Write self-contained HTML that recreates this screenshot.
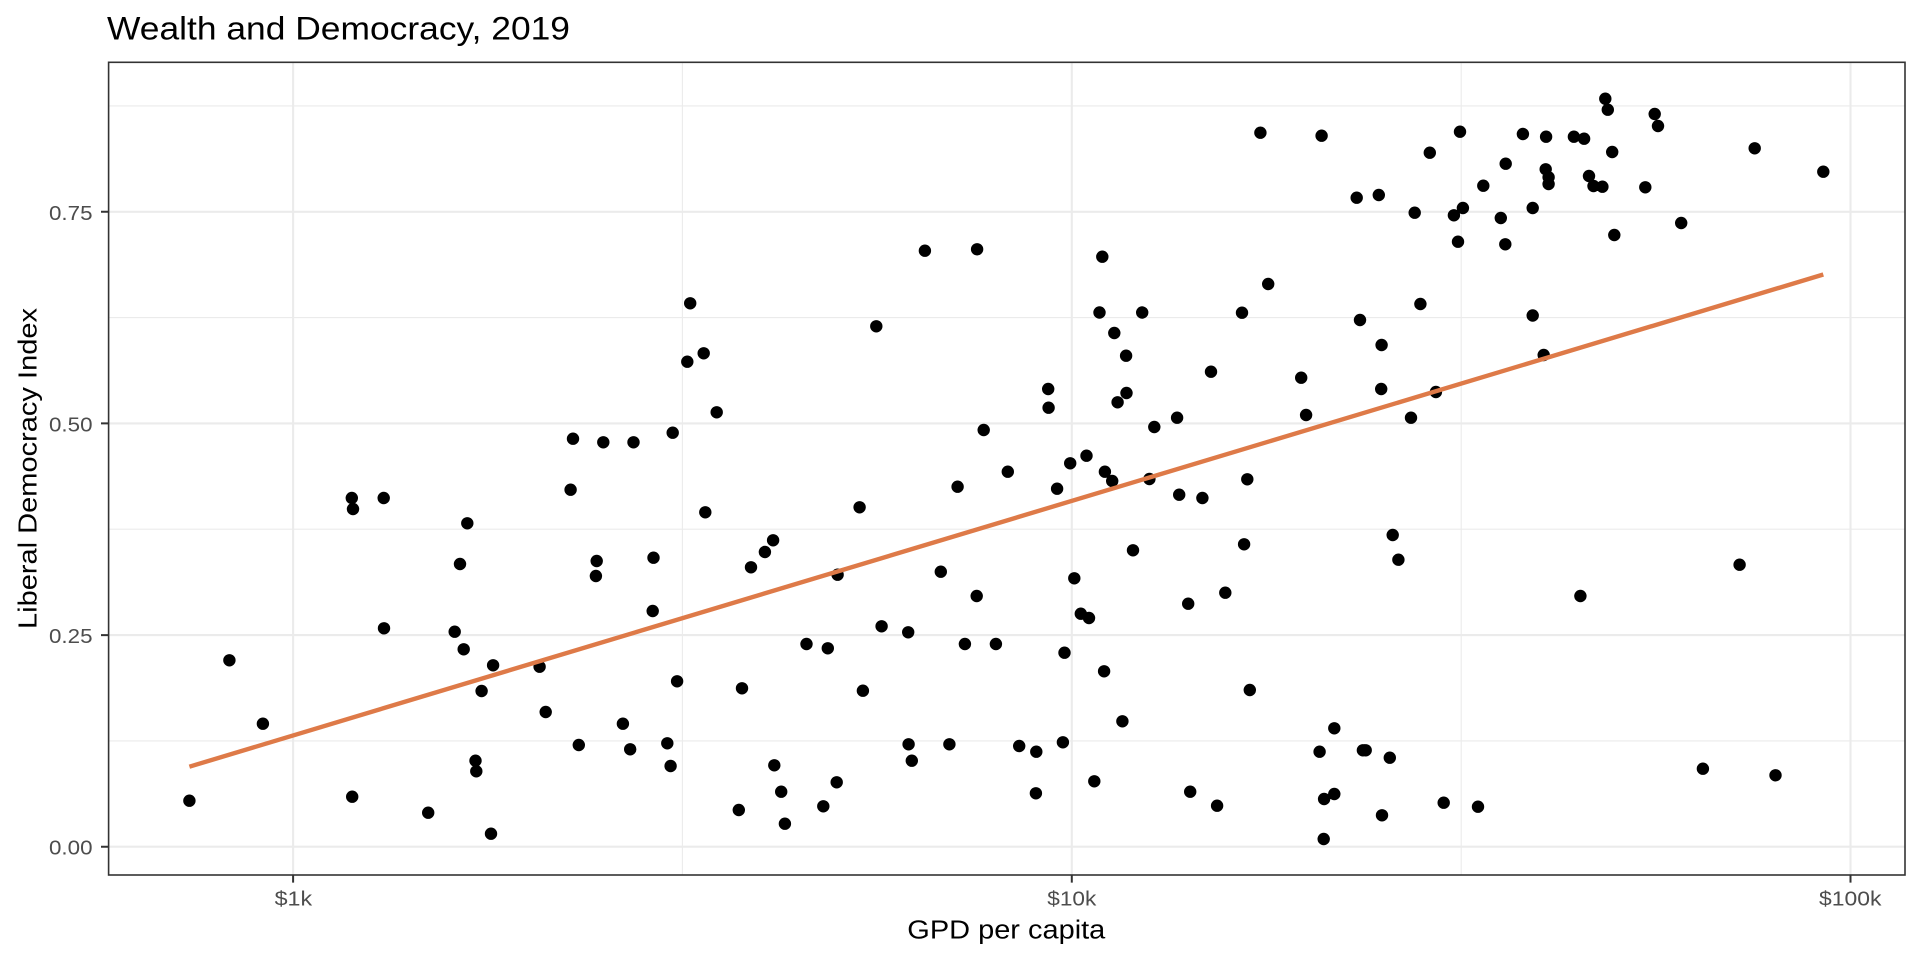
<!DOCTYPE html>
<html>
<head>
<meta charset="utf-8">
<style>
html, body { margin: 0; padding: 0; background: #ffffff; }
svg { display: block; }
text { font-family: "Liberation Sans", Arial, Helvetica, sans-serif; }
</style>
</head>
<body>
<svg width="1920" height="960" viewBox="0 0 1920 960" xmlns="http://www.w3.org/2000/svg">
<rect x="0" y="0" width="1920" height="960" fill="#ffffff"/>
<text x="107" y="39.5" font-size="32.5" fill="#000000" textLength="463" lengthAdjust="spacingAndGlyphs">Wealth and Democracy, 2019</text>
<path d="M108.6 740.9H1905M108.6 529.2H1905M108.6 317.6H1905M108.6 105.9H1905M682.4 62.3V875M1461.2 62.3V875" stroke="#EBEBEB" stroke-width="1.1" fill="none"/>
<path d="M108.6 846.7H1905M108.6 635.1H1905M108.6 423.4H1905M108.6 211.8H1905M293.1 62.3V875M1071.8 62.3V875M1850.5 62.3V875" stroke="#EBEBEB" stroke-width="2.1" fill="none"/>
<path fill="none" stroke="#000000" stroke-width="12.4" stroke-linecap="round" d="
M229.4 660.3h0 M262.9 723.7h0 M189.4 800.7h0 M352.2 796.7h0 M428.2 812.7h0 M463.7 649.3h0 M493.1 665.3h0 M481.6 691h0
M539.6 666.7h0 M545.7 712h0 M475.5 760.7h0 M476.3 771.3h0 M491 833.7h0 M622.9 723.7h0 M578.8 745h0 M630.2 749.3h0
M573 438.7h0 M603.3 442.3h0 M633.5 442.3h0 M570.6 489.7h0 M351.8 498h0 M353 509h0 M383.7 498h0 M467.3 523.3h0
M460 564h0 M596.7 561h0 M595.9 576h0 M384 628.3h0 M454.7 631.7h0
M876.3 326.3h0 M687.3 361.7h0 M703.7 353.3h0 M716.7 412.3h0 M672.7 432.7h0 M1114.3 333h0 M1126.1 355.7h0 M1211 371.7h0
M1048.2 389h0 M1048.6 407.7h0 M1126.5 393h0 M1117.6 402.3h0 M1177.1 417.7h0 M1154.3 427h0 M983.7 430h0 M1086.5 455.7h0
M1070.2 463.3h0 M1104.9 471.7h0 M1112.2 481h0 M1149.4 479h0 M1247.3 479.3h0 M1007.8 471.7h0 M957.6 486.7h0 M1057.1 488.7h0
M1179.2 494.7h0 M1202.4 498h0 M859.6 507.3h0 M705.3 512.3h0 M773.1 540.3h0 M764.9 552h0 M751 567.3h0 M653.5 557.7h0
M837.6 574.7h0 M940.8 571.7h0 M1133 550.3h0 M1244.1 544.3h0 M1074.3 578.3h0 M976.7 596h0 M1225.3 592.7h0 M1188.2 603.7h0
M652.7 611h0 M1080.8 613.7h0 M1089 618h0 M881.6 626.3h0 M908.2 632.3h0
M806.5 644h0 M827.8 648.3h0 M964.9 644h0 M995.9 644h0 M1064.5 652.7h0 M677.1 681.3h0 M742 688.3h0 M862.9 690.7h0
M1104.1 671.3h0 M1249.8 690h0 M1122.4 721.3h0 M667.3 743.3h0 M670.6 766h0 M908.6 744.3h0 M911.8 760.7h0 M949.4 744.3h0
M1019.2 746h0 M1036.3 751.7h0 M1062.9 742.3h0 M774.3 765.3h0 M836.7 782.3h0 M781.2 791.7h0 M738.8 810h0 M823.3 806.3h0
M784.9 823.7h0 M1035.9 793.3h0 M1094.3 781.3h0 M1190.2 791.7h0 M1217.1 805.7h0
M690.2 303.3h0 M924.9 250.7h0 M977.1 249.3h0 M1102.3 256.7h0 M1099.5 312.5h0 M1142.2 312.5h0 M1242 312.7h0 M1268.2 284h0
M1260.4 132.7h0
M1605.3 98.7h0 M1607.8 109.7h0 M1654.7 114h0 M1658 126h0 M1321.6 135.7h0 M1460 131.7h0 M1522.9 134h0 M1546.1 136.7h0
M1573.9 136.7h0 M1584.1 138.7h0 M1429.8 152.7h0 M1612.2 152h0 M1754.7 148.3h0 M1505.7 163.7h0 M1545.7 169.3h0 M1548.6 177.3h0
M1548.6 184h0 M1589 176h0 M1593.5 186h0 M1602.4 186.7h0 M1645.3 187.3h0 M1823.3 171.7h0 M1483.3 185.7h0 M1356.7 197.7h0
M1378.8 195h0 M1414.7 212.7h0 M1453.9 215.3h0 M1462.9 208h0 M1500.8 218h0 M1532.7 208h0 M1681.2 223h0 M1614.3 235h0
M1458 241.7h0 M1505.3 244.3h0 M1420.4 304h0 M1360 320h0 M1532.7 315.5h0
M1381.6 345h0 M1301.2 377.7h0 M1381.2 389h0 M1435.9 392h0 M1306.1 415h0 M1411 417.7h0 M1543.7 355h0 M1392.7 535h0
M1398.4 559.7h0 M1739.6 564.7h0 M1580.4 596h0
M1334.3 728.3h0 M1319.6 751.7h0 M1362.9 750.3h0 M1365.7 750.3h0 M1389.8 757.7h0 M1324.1 799h0 M1334.3 794h0 M1382 815.3h0
M1323.7 839h0 M1443.7 802.7h0 M1478 806.7h0 M1702.9 768.7h0 M1775.5 775.3h0"/>
<path d="M189.4 766.7L1823.3 274.5" stroke="#DE7A48" stroke-width="4.4" fill="none"/>
<rect x="108.6" y="62.3" width="1796.4" height="812.7" fill="none" stroke="#333333" stroke-width="1.6"/>
<path d="M101 846.7H108.6M101 635.1H108.6M101 423.4H108.6M101 211.8H108.6M293.1 875V882.6M1071.8 875V882.6M1850.5 875V882.6" stroke="#333333" stroke-width="2" fill="none"/>
<g font-size="20.5" fill="#4D4D4D">
<text x="49" y="854.7" textLength="43.5" lengthAdjust="spacingAndGlyphs">0.00</text>
<text x="49" y="643.1" textLength="43.5" lengthAdjust="spacingAndGlyphs">0.25</text>
<text x="49" y="431.4" textLength="43.5" lengthAdjust="spacingAndGlyphs">0.50</text>
<text x="49" y="219.8" textLength="43.5" lengthAdjust="spacingAndGlyphs">0.75</text>
<text x="274.6" y="905.5" textLength="37.5" lengthAdjust="spacingAndGlyphs">$1k</text>
<text x="1047.3" y="905.5" textLength="49" lengthAdjust="spacingAndGlyphs">$10k</text>
<text x="1819" y="905.5" textLength="62.4" lengthAdjust="spacingAndGlyphs">$100k</text>
</g>
<text x="907.3" y="938.3" font-size="25.5" fill="#000000" textLength="198" lengthAdjust="spacingAndGlyphs">GPD per capita</text>
<text transform="translate(36.5,629) rotate(-90)" x="0" y="0" font-size="26" fill="#000000" textLength="321" lengthAdjust="spacingAndGlyphs">Liberal Democracy Index</text>
</svg>
</body>
</html>
